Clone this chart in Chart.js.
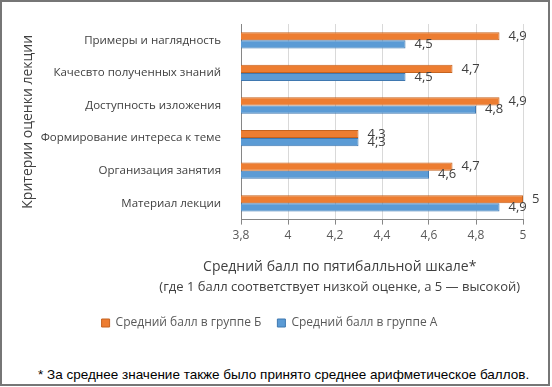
<!DOCTYPE html>
<html>
<head>
<meta charset="utf-8">
<script src="https://cdn.jsdelivr.net/npm/chart.js@4"></script>
<style>
  body { margin: 0; background: #fff; }
  #box {
    position: absolute; left: 0; top: 0;
    width: 550px; height: 386px;
    box-sizing: border-box;
    border: 2px solid #767676;
    background: #fff;
  }
  #wrap { position: absolute; left: 0; top: 0; width: 546px; height: 341px; }
  #note {
    position: absolute; left: 36px; top: 365px;
    font-family: "Liberation Sans", Arial, sans-serif;
    font-size: 13.5px; color: #000; white-space: nowrap;
  }
</style>
</head>
<body>
<div id="box">
  <div id="wrap"><canvas id="chart"></canvas></div>
  <div id="note">* За среднее значение также было принято среднее арифметическое баллов.</div>
</div>
<script>
// Criteria (top to bottom)
const categories = [
  'Примеры и наглядность',
  'Качесвто полученных знаний',
  'Доступность изложения',
  'Формирование интереса к теме',
  'Организация занятия',
  'Материал лекции'
];
const groupB = [4.9, 4.7, 4.9, 4.3, 4.7, 5];
const groupA = [4.5, 4.5, 4.8, 4.3, 4.6, 4.9];
const seriesNames = ['Средний балл в группе Б', 'Средний балл в группе А'];
const xTitleLines = [
  'Средний балл по пятибалльной шкале*',
  '(где 1 балл соответствует низкой оценке, а 5 — высокой)'
];
const yTitle = 'Критерии оценки лекции';

const FONT = '"Open Sans", "Noto Sans", sans-serif';
const fmt = v => String(Math.round(v * 10) / 10).replace('.', ',');

// value labels at the end of each bar
const barLabels = {
  id: 'barLabels',
  afterDatasetsDraw(chart) {
    const ctx = chart.ctx;
    ctx.save();
    ctx.font = '13px ' + FONT;
    ctx.fillStyle = '#404040';
    ctx.textBaseline = 'middle';
    ctx.textAlign = 'left';
    chart.data.datasets.forEach((ds, i) => {
      chart.getDatasetMeta(i).data.forEach((bar, j) => {
        ctx.fillText(fmt(ds.data[j]), bar.x + 9, bar.y);
      });
    });
    ctx.restore();
  }
};

// two-line x axis title, centred a bit left of the plot like in Excel
const xTitle = {
  id: 'xTitle',
  afterDraw(chart) {
    const ctx = chart.ctx;
    const area = chart.chartArea;
    const cx = area.left + (area.right - area.left) * 0.35;
    ctx.save();
    ctx.fillStyle = '#404040';
    ctx.textAlign = 'center';
    ctx.textBaseline = 'middle';
    ctx.font = '14px ' + FONT;
    ctx.fillText(xTitleLines[0], cx, area.bottom + 47);
    ctx.font = '13px ' + FONT;
    ctx.fillText(xTitleLines[1], cx, area.bottom + 68);
    ctx.restore();
  }
};

new Chart(document.getElementById('chart'), {
  type: 'bar',
  data: {
    labels: categories,
    datasets: [
      {
        label: seriesNames[0],
        data: groupB,
        backgroundColor: '#ED7D31',
        borderColor: '#C5631F',
        borderWidth: 1,
        categoryPercentage: 0.5,
        barPercentage: 1
      },
      {
        label: seriesNames[1],
        data: groupA,
        backgroundColor: '#5B9BD5',
        borderColor: '#3F78B0',
        borderWidth: 1,
        categoryPercentage: 0.5,
        barPercentage: 1
      }
    ]
  },
  options: {
    indexAxis: 'y',
    responsive: true,
    maintainAspectRatio: false,
    animation: false,
    layout: { padding: { top: 22, left: 14, right: 25, bottom: 4 } },
    plugins: {
      legend: {
        position: 'bottom',
        labels: {
          boxWidth: 8, boxHeight: 8,
          color: '#595959',
          font: { family: FONT, size: 12 },
          padding: 16
        }
      },
      tooltip: { enabled: false }
    },
    scales: {
      x: {
        min: 3.8,
        max: 5,
        ticks: {
          stepSize: 0.2,
          color: '#595959',
          font: { family: FONT, size: 12 },
          padding: 4,
          callback: v => fmt(v)
        },
        grid: { color: '#D9D9D9', tickColor: '#868686', tickLength: 5 },
        border: { color: '#868686' },
        afterFit(scale) { scale.height += 54; }
      },
      y: {
        grid: { display: false },
        border: { color: '#868686' },
        ticks: {
          color: '#404040',
          font: { family: FONT, size: 11.5 },
          padding: 12
        },
        title: {
          display: true,
          text: yTitle,
          color: '#404040',
          font: { family: FONT, size: 14 }
        },
        afterFit(scale) { scale.width = 239 - 14; }
      }
    }
  },
  plugins: [barLabels, xTitle]
});
</script>
</body>
</html>
